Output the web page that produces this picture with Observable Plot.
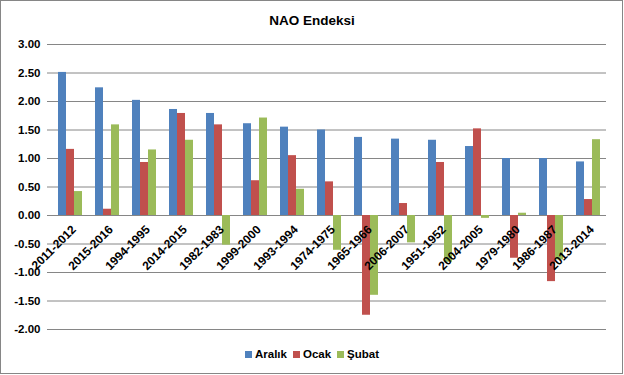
<!DOCTYPE html>
<html>
<head>
<meta charset="utf-8">
<script src="https://cdn.jsdelivr.net/npm/d3@7"></script>
<script src="https://cdn.jsdelivr.net/npm/@observablehq/plot@0.6"></script>
<style>
  html, body { margin: 0; padding: 0; background: #fff; }
  #wrap { position: relative; width: 624px; height: 375px; overflow: hidden; font-family: "Liberation Sans", Arial, sans-serif; }
  #border { position: absolute; left: 0; top: 0; width: 621px; height: 372px; border: 1px solid #868686; box-sizing: content-box; }
  #title { position: absolute; left: 0; width: 624px; top: 13px; text-align: center; font-weight: bold; font-size: 13.5px; color: #000; }
  #chart { position: absolute; left: 0; top: 0; }
  #legend { position: absolute; left: 0; width: 624px; top: 348px; text-align: center; font-weight: bold; font-size: 11.5px; color: #000; }
  #legend span.item { display: inline-block; margin: 0 3px; }
  #legend span.sw { display: inline-block; width: 7px; height: 7px; margin-right: 3px; vertical-align: 0px; }
</style>
</head>
<body>
<div id="wrap">
  <div id="chart"></div>
  <div id="title">NAO Endeksi</div>
  <div id="legend"></div>
  <div id="border"></div>
</div>
<script>
const categories = ["2011-2012","2015-2016","1994-1995","2014-2015","1982-1983","1999-2000","1993-1994","1974-1975","1965-1966","2006-2007","1951-1952","2004-2005","1979-1980","1986-1987","2013-2014"];
const seriesNames = ["Aralık","Ocak","Şubat"];
const aralik = [2.51, 2.24, 2.02, 1.86, 1.79, 1.61, 1.55, 1.50, 1.37, 1.34, 1.32, 1.21, 1.00, 1.00, 0.94];
const ocak   = [1.16, 0.11, 0.93, 1.79, 1.59, 0.61, 1.05, 0.59, -1.75, 0.21, 0.93, 1.52, -0.75, -1.16, 0.28];
const subat  = [0.42, 1.59, 1.15, 1.32, -0.52, 1.71, 0.46, -0.61, -1.40, -0.48, -0.82, -0.05, 0.04, -0.78, 1.33];
const colors = ["#4F81BD", "#C0504D", "#9BBB59"];
const yTicks = [-2, -1.5, -1, -0.5, 0, 0.5, 1, 1.5, 2, 2.5, 3];

const seriesValues = [aralik, ocak, subat];
const rows = [];
categories.forEach((c, i) => {
  seriesNames.forEach((s, k) => rows.push({cat: c, series: s, value: seriesValues[k][i]}));
});

const W = 624, H = 345, ML = 46, MR = 14, MT = 44, MB = 16;
const step = (W - ML - MR) / categories.length;
const grid = "#868686";

const chart = Plot.plot({
  width: W,
  height: H,
  marginLeft: ML,
  marginRight: MR,
  marginTop: MT,
  marginBottom: MB,
  style: {fontFamily: "'Liberation Sans', Arial, sans-serif", fontSize: "11.5px", fontWeight: "bold", color: "#000", background: "transparent"},
  fx: {domain: categories, padding: 0, axis: null},
  x: {domain: seriesNames, paddingInner: 0, paddingOuter: 0.77, axis: null},
  y: {domain: [-2, 3], axis: null},
  color: {domain: seriesNames, range: colors},
  marks: [
    Plot.ruleY(yTicks, {stroke: grid, strokeWidth: 1}),
    Plot.barY(rows, {fx: "cat", x: "series", y: "value", fill: "series"}),
    Plot.ruleX([categories[0]], {fx: d => d, y1: () => -2, y2: () => 3, dx: -step / 2, stroke: grid}),
    Plot.ruleX(categories, {fx: d => d, y1: () => 0, y2: () => 0, insetBottom: -4, dx: -step / 2, stroke: grid}),
    Plot.ruleX([categories[categories.length - 1]], {fx: d => d, y1: () => 0, y2: () => 0, insetBottom: -4, dx: step / 2, stroke: grid}),
    Plot.axisY({ticks: yTicks, tickFormat: d => d.toFixed(2), tickSize: 4, tickPadding: 7, stroke: grid, fill: "#000", label: null}),
    Plot.text(categories, {fx: d => d, y: () => 0, text: d => d, rotate: -45, textAnchor: "end", dx: 4, dy: 12, fontSize: 12, fontWeight: "bold", fill: "#000"})
  ]
});
document.getElementById("chart").appendChild(chart);

const legend = document.getElementById("legend");
seriesNames.forEach((s, k) => {
  const item = document.createElement("span");
  item.className = "item";
  const sw = document.createElement("span");
  sw.className = "sw";
  sw.style.background = colors[k];
  item.appendChild(sw);
  item.appendChild(document.createTextNode(s));
  legend.appendChild(item);
});
</script>
</body>
</html>
